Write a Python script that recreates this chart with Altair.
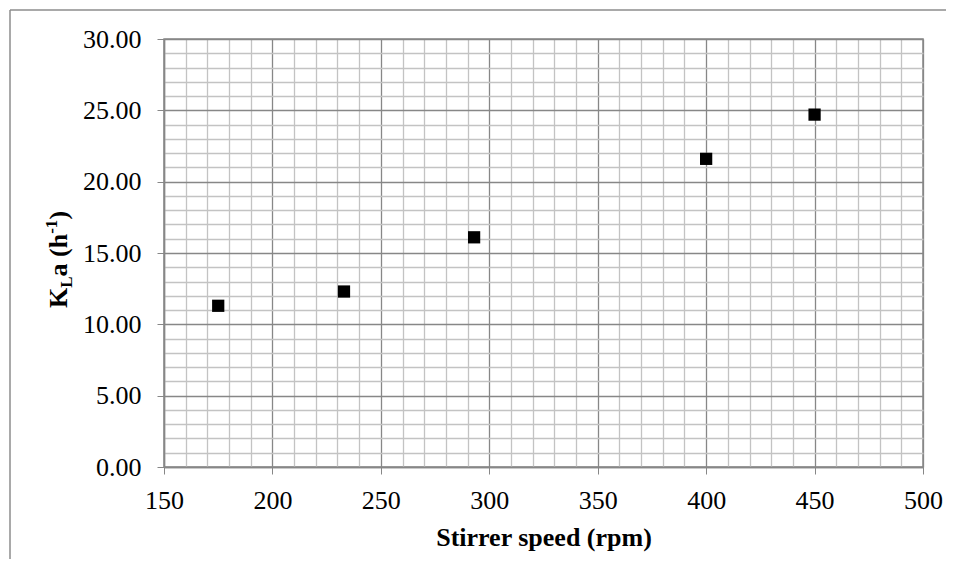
import altair as alt
import pandas as pd

# Data
speed = [175, 233, 293, 400, 450]
kla = [11.3, 12.3, 16.1, 21.6, 24.7]

x_ticks = list(range(150, 501, 10))
y_ticks = list(range(0, 31, 1))

df = pd.DataFrame({"speed": speed, "kla": kla})

FONT = "Liberation Serif"
MAJOR = "#878787"
MINOR = "#c3c3c3"
FRAME = "#8c8c8c"

one = alt.Data(values=[{}])

# outer chart frame (top and left edges visible in the reference)
frame_top = alt.Chart(one).mark_rule(color=FRAME, strokeWidth=1.5).encode(
    x=alt.value(-154), x2=alt.value(782), y=alt.value(-29), y2=alt.value(-29)
)
frame_left = alt.Chart(one).mark_rule(color=FRAME, strokeWidth=1.5).encode(
    x=alt.value(-154), x2=alt.value(-154), y=alt.value(-29), y2=alt.value(520)
)

points = alt.Chart(df).mark_square(size=150, color="black", opacity=1).encode(
    x=alt.X(
        "speed:Q",
        scale=alt.Scale(domain=[150, 500], nice=False, zero=False),
        axis=alt.Axis(
            values=x_ticks,
            title="Stirrer speed (rpm)",
            titleFont=FONT,
            titleFontSize=26,
            titleFontWeight="bold",
            titleColor="black",
            titleBaseline="alphabetic",
            titleY=78,
            labelFont=FONT,
            labelFontSize=26,
            labelColor="black",
            labelExpr="datum.value % 50 === 0 ? datum.label : ''",
            labelOverlap=False,
            labelFlush=False,
            labelPadding=13,
            format="d",
            tickSize=7,
            tickColor=MAJOR,
            tickOpacity=alt.condition("datum.value % 50 === 0", alt.value(1), alt.value(0)),
            domainColor=MAJOR,
            domainWidth=1.5,
            grid=True,
            gridColor=alt.condition("datum.value % 50 === 0", alt.value(MAJOR), alt.value(MINOR)),
            gridWidth=1.3,
            gridOpacity=1,
        ),
    ),
    y=alt.Y(
        "kla:Q",
        scale=alt.Scale(domain=[0, 30], nice=False),
        axis=alt.Axis(
            values=y_ticks,
            title=None,
            labelFont=FONT,
            labelFontSize=26,
            labelColor="black",
            labelExpr="datum.value % 5 === 0 ? datum.label : ''",
            labelOverlap=False,
            labelFlush=False,
            labelPadding=16,
            format=".2f",
            tickSize=7,
            tickColor=MAJOR,
            tickOpacity=alt.condition("datum.value % 5 === 0", alt.value(1), alt.value(0)),
            domainColor=MAJOR,
            domainWidth=1.5,
            grid=True,
            gridColor=alt.condition("datum.value % 5 === 0", alt.value(MAJOR), alt.value(MINOR)),
            gridWidth=1.3,
            gridOpacity=1,
        ),
    ),
)

# Y-axis title "K_L a (h^-1)" built from pieces (rotated)
def piece(txt, size, px, py):
    return alt.Chart(one).mark_text(
        text=txt, angle=270, align="left", baseline="alphabetic",
        font=FONT, fontSize=size, fontWeight="bold", color="black"
    ).encode(x=alt.value(px), y=alt.value(py))

bx = -97
t_k = piece("K", 26, bx, 269)
t_l = piece("L", 17, bx + 5, 248.8)
t_a = piece("a (h", 26, bx, 237.5)
t_s = piece("-1", 17, bx - 10, 194.8)
t_p = piece(")", 26, bx, 180.6)

chart = alt.layer(frame_top, frame_left, points, t_k, t_l, t_a, t_s, t_p).properties(
    width=759,
    height=428,
    background="white",
    autosize=alt.AutoSizeParams(type="none"),
    padding={"left": 156, "top": 31, "right": 27, "bottom": 98},
).configure_view(
    stroke=MAJOR, strokeWidth=1.5
)

chart.save("out.html", embed_options={"renderer": "svg", "actions": False})
